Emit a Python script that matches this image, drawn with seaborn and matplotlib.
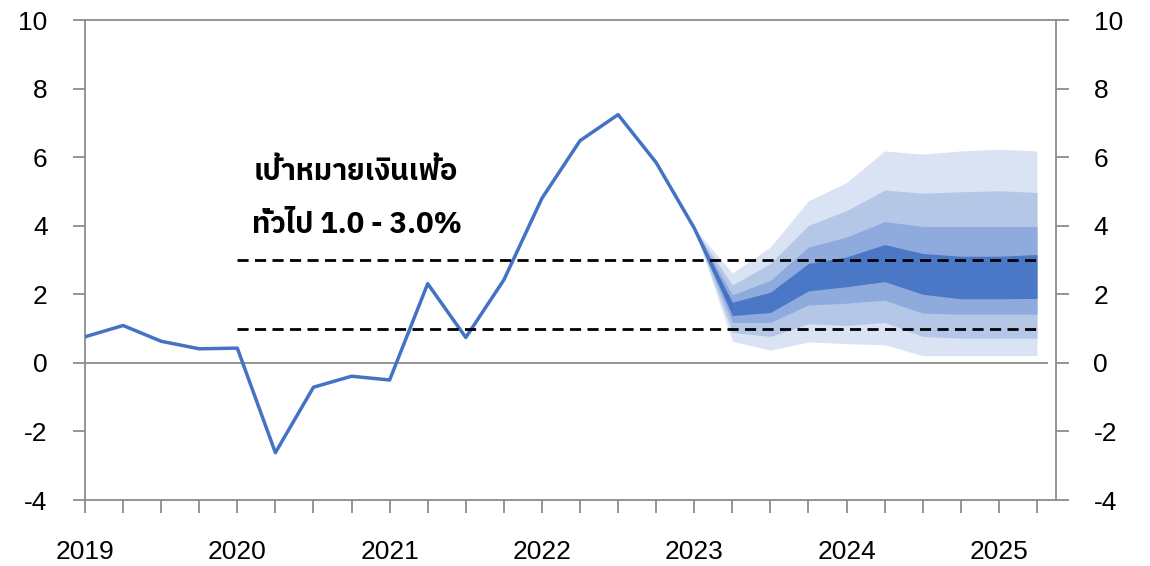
import numpy as np
import seaborn as sns
import matplotlib
matplotlib.use("Agg")
import matplotlib.pyplot as plt
from matplotlib import font_manager
from matplotlib.ft2font import FT2Font

# ข้อมูลเงินเฟ้อทั่วไป รายไตรมาส (2019Q1 - 2023Q2 เป็นค่าจริง)
actual = [0.76, 1.09, 0.63, 0.41, 0.43, -2.62, -0.71, -0.39, -0.50, 2.31,
          0.74, 2.42, 4.80, 6.48, 7.24, 5.84, 3.93, 1.57]

# fan chart (2023Q1 - 2025Q2)
fan_start = 16
outer_hi = [3.93, 2.62, 3.38, 4.73, 5.26, 6.18, 6.09, 6.18, 6.23, 6.18]
mid_hi   = [3.93, 2.27, 2.90, 4.01, 4.44, 5.04, 4.95, 4.99, 5.02, 4.97]
inner_hi = [3.93, 1.98, 2.41, 3.38, 3.67, 4.12, 3.98, 3.98, 3.98, 3.98]
core_hi  = [3.93, 1.77, 2.06, 2.90, 3.09, 3.45, 3.19, 3.11, 3.11, 3.16]
core_lo  = [3.93, 1.38, 1.47, 2.10, 2.22, 2.37, 2.00, 1.87, 1.87, 1.88]
inner_lo = [3.93, 1.18, 1.18, 1.69, 1.74, 1.83, 1.45, 1.42, 1.42, 1.42]
mid_lo   = [3.93, 0.89, 0.77, 1.14, 1.09, 1.18, 0.77, 0.72, 0.72, 0.72]
outer_lo = [3.93, 0.63, 0.37, 0.61, 0.56, 0.53, 0.21, 0.21, 0.21, 0.21]

n_quarters = 26
years = ['2019', '2020', '2021', '2022', '2023', '2024', '2025']
target_lo, target_hi = 1.0, 3.0
target_start = 4


def font_with(ch):
    # หา font ที่มีอักษรไทย
    found = []
    for f in font_manager.fontManager.ttflist:
        try:
            if ord(ch) in FT2Font(f.fname).get_charmap():
                found.append(f.name)
        except Exception:
            pass
    for name in found:
        if 'Sans' in name:
            return name
    return found[0] if found else 'DejaVu Sans'


thai_font = font_with('ก')
names = {f.name for f in font_manager.fontManager.ttflist}
tick_font = 'Liberation Sans Narrow' if 'Liberation Sans Narrow' in names else 'Liberation Sans'

sns.set_style("white")
plt.rcParams['font.family'] = [tick_font, 'DejaVu Sans']
plt.rcParams['axes.unicode_minus'] = False

fig = plt.figure(figsize=(11.5, 5.66), dpi=100)
ax = fig.add_axes([85 / 1150, 1 - 500 / 566, (1056 - 85) / 1150, 480 / 566])

xf = np.arange(fan_start, fan_start + len(outer_hi))
ax.fill_between(xf, outer_lo, outer_hi, color='#DAE3F3', lw=0)
ax.fill_between(xf, mid_lo, mid_hi, color='#B4C7E7', lw=0)
ax.fill_between(xf, inner_lo, inner_hi, color='#8FAADC', lw=0)
ax.fill_between(xf, core_lo, core_hi, color='#4A77C6', lw=0)

ax.hlines(0, 0, 25.3, color='#8C8C8C', lw=1.3, zorder=1)

sns.lineplot(x=np.arange(len(actual)), y=actual, color='#4472C4', lw=2.5, ax=ax, zorder=3)

for v in (target_lo, target_hi):
    ax.hlines(v, target_start, n_quarters - 1, color='black', lw=2.0,
              linestyles=(0, (4, 2.3)), zorder=4)

ax.text(356 / 1150, 1 - 172 / 566, 'เป้าหมายเงินเฟ้อ', transform=fig.transFigure,
        ha='center', va='center', fontsize=21, fontweight='bold', color='black',
        family=[thai_font, 'DejaVu Sans'])
ax.text(357 / 1150, 1 - 225 / 566, 'ทั่วไป 1.0 - 3.0%', transform=fig.transFigure,
        ha='center', va='center', fontsize=21, fontweight='bold', color='black',
        family=[thai_font, 'DejaVu Sans'])

ax.set_xlim(0, 25.5)
ax.set_ylim(-4, 10)
ax.set_yticks(range(-4, 11, 2))
ax.set_xticks(range(0, n_quarters), minor=True)
ax.set_xticks(range(0, 25, 4))
ax.set_xticklabels(years)

for s in ax.spines.values():
    s.set_color('#8C8C8C')
    s.set_linewidth(1.3)

ax.tick_params(axis='y', which='both', direction='out', length=9, width=1.3,
               color='#8C8C8C', labelcolor='black', left=True, right=True,
               labelleft=True, labelright=True, labelsize=19, pad=18)
ax.tick_params(axis='x', which='both', direction='out', length=9, width=1.3,
               color='#8C8C8C', labelcolor='black', bottom=True, labelsize=19, pad=20)
for t in ax.yaxis.get_major_ticks():
    t.label2.set_horizontalalignment('left')

fig.savefig('out.png', dpi=100)
